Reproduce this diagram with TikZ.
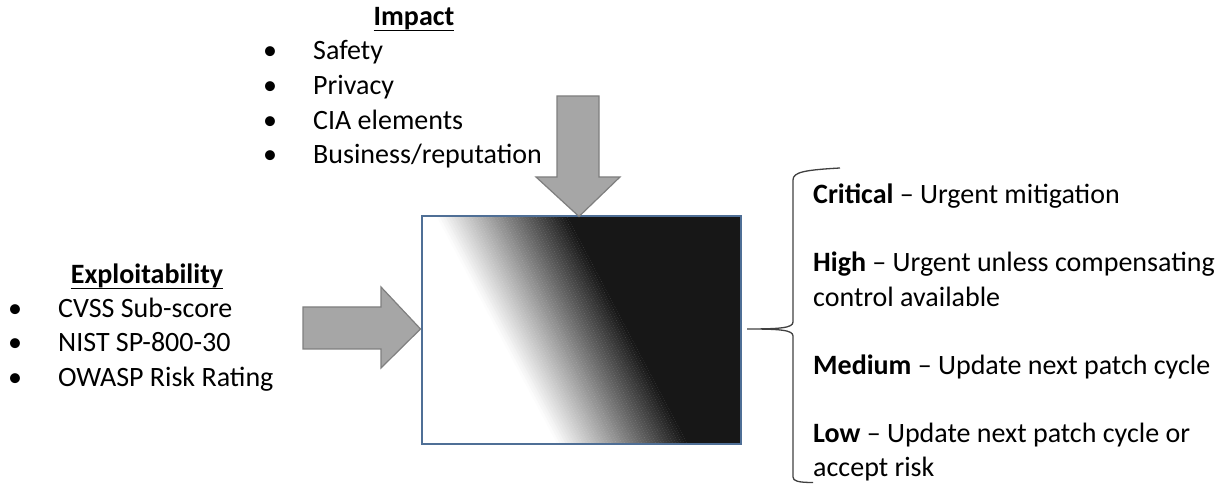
\documentclass[tikz,border=0pt]{standalone}
\usepackage{fontspec}
\setmainfont{Carlito}
\definecolor{boxline}{HTML}{4F6F96}
\definecolor{arrfill}{HTML}{A6A6A6}
\definecolor{arrline}{HTML}{7F7F7F}
\begin{document}
\begin{tikzpicture}[x=1bp,y=1bp,
  txt/.style={inner sep=0, anchor=base west, font=\fontsize{28bp}{34bp}\selectfont},
  ttl/.style={inner sep=0, anchor=base, font=\fontsize{28bp}{34bp}\selectfont\bfseries},
  bul/.style={inner sep=0, anchor=base, font=\fontsize{28bp}{34bp}\selectfont},
  blockarrow/.style={fill=arrfill, draw=arrline, line width=1.2bp, line join=miter},
  bracestyle/.style={draw=black!75, line width=1.3bp}]
\useasboundingbox (0,0) rectangle (1227,486);
% gradient fill of the box
\begin{scope}
  \clip (421.5,42) rectangle (740.5,269.5);
  \begin{scope}[shift={(562,156)}, rotate=27.9]
    \fill[white] (-700,-400) rectangle (-57.5,400);
    \fill[black!91] (57.5,-400) rectangle (700,400);
    \foreach \i in {0,...,45} {
      \pgfmathsetmacro\p{91*(\i+0.5)/46}
      \fill[black!\p] ({-57.5+2.5*\i},-400) rectangle ({-57.5+2.5*\i+2.7},400);
    }
  \end{scope}
\end{scope}
\node[draw=boxline, line width=2bp, minimum width=319bp, minimum height=227.5bp, inner sep=0] (box) at (581,155.75) {};
% block arrows
\draw[blockarrow] (557,390) -- (599,390) -- (599,309) -- (620,309) -- (579,269.5) -- (536,309) -- (557,309) -- cycle;
\draw[blockarrow] (303,179) -- (381,179) -- (381,199) -- (420.5,157) -- (381,118) -- (381,137) -- (303,137) -- cycle;
% Impact list
\node[ttl] (imp) at (414,460) {Impact};
\draw[line width=1.8bp] ([yshift=-4.5bp]imp.base west) -- ([yshift=-4.5bp]imp.base east);
\node[bul] (ib1) at (270,426) {•};
\node[txt] (i1) at (313,426) {Safety};
\node[bul] (ib2) at (270,391) {•};
\node[txt] (i2) at (313,391) {Privacy};
\node[bul] (ib3) at (270,356.5) {•};
\node[txt] (i3) at (313,356.5) {CIA elements};
\node[bul] (ib4) at (270,322) {•};
\node[txt] (i4) at (313,322) {Business/reputation};
% Exploitability list
\node[ttl] (exp) at (147,202) {Exploitability};
\draw[line width=1.8bp] ([yshift=-4.5bp]exp.base west) -- ([yshift=-4.5bp]exp.base east);
\node[bul] (eb1) at (15,168) {•};
\node[txt] (e1) at (58,168) {CVSS Sub-score};
\node[bul] (eb2) at (15,134) {•};
\node[txt] (e2) at (58,134) {NIST SP-800-30};
\node[bul] (eb3) at (15,99) {•};
\node[txt] (e3) at (58,99) {OWASP Risk Rating};
% brace
\coordinate (btip) at (747,157);
\draw[bracestyle] (840,318) .. controls (805,316) and (793,314) .. (793,306) -- (793,164)
  .. controls (793,158) and (780,157) .. (btip)
  .. controls (780,157) and (793,156) .. (793,150) -- (793,9)
  .. controls (793,5) and (798,3.5) .. (813,3.5);
% ratings
\node[txt] (r1) at (813,282) {\textbf{Critical} – Urgent mitigation};
\node[txt] (r2) at (813,214) {\textbf{High} – Urgent unless compensating};
\node[txt] (r2b) at (813,179) {control available};
\node[txt] (r3) at (813,111) {\textbf{Medium} – Update next patch cycle};
\node[txt] (r4) at (813,43) {\textbf{Low} – Update next patch cycle or};
\node[txt] (r4b) at (813,9) {accept risk};
\end{tikzpicture}
\end{document}
